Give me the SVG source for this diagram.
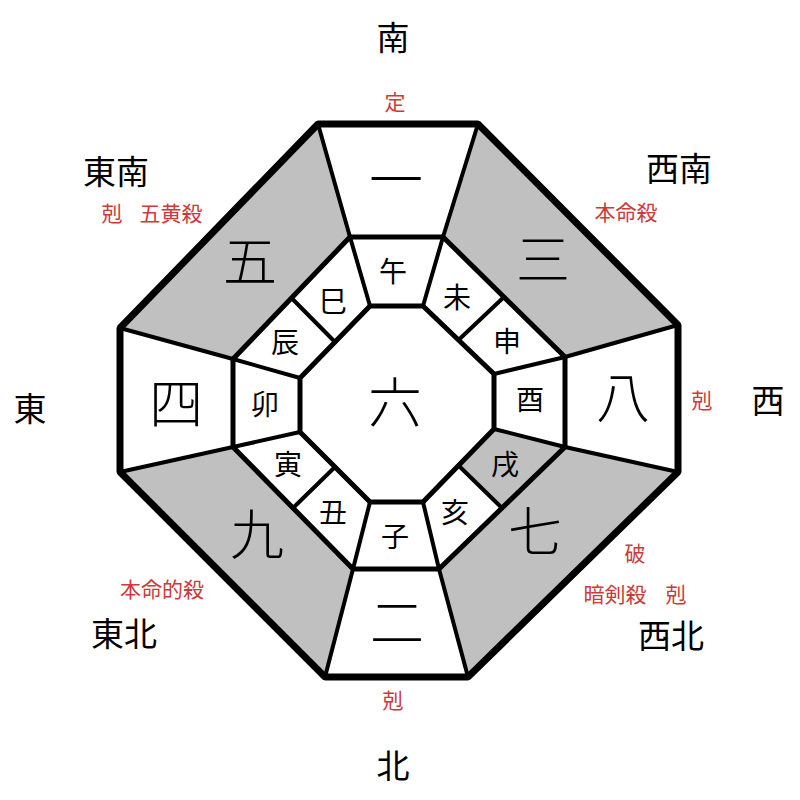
<svg xmlns="http://www.w3.org/2000/svg" width="800" height="800" viewBox="0 0 800 800">
<style>
.w{fill:#ffffff}
.g{fill:#c0c0c0}
.ln{stroke:#000;fill:none;stroke-linecap:round}
.t{font-family:"Noto Sans CJK JP","Noto Sans CJK SC",sans-serif;text-anchor:middle;fill:#000}
.big{font-size:54px;font-weight:300}
.zod{font-size:28px}
.dir{font-size:33px}
.red{font-size:21px;fill:#cc3a3a}
</style>
<rect width="800" height="800" fill="#fff"/>
<g id="cells">
<g id="c1"><polygon class="w" points="318,124 478,124 443,237 350,237"/><text class="t big" x="396" y="200">一</text></g>
<g id="c3"><polygon class="g" points="478,124 678,325 565,357 443,237"/><text class="t big" x="543" y="280">三</text></g>
<g id="c8"><polygon class="w" points="678,325 678,472 565,447 565,357"/><text class="t big" x="623" y="418">八</text></g>
<g id="c7"><polygon class="g" points="678,472 468,677 439,569 565,447"/><text class="t big" x="535" y="552">七</text></g>
<g id="c2"><polygon class="w" points="468,677 325,677 353,569 439,569"/><text class="t big" x="397" y="643">二</text></g>
<g id="c9"><polygon class="g" points="325,677 120,472 233,447 353,569"/><text class="t big" x="257" y="555">九</text></g>
<g id="c4"><polygon class="w" points="120,472 120,328 233,359 233,447"/><text class="t big" x="176" y="424">四</text></g>
<g id="c5"><polygon class="g" points="120,328 318,124 350,237 233,359"/><text class="t big" x="250" y="282">五</text></g>
<g id="c6"><polygon class="w" points="370,306 423,306 494,374 494,429 423,502 370,502 300,432 300,378"/><text class="t big" x="395" y="423">六</text></g>
</g>
<g id="zodiac">
<g id="z-uma"><polygon class="w" points="350,237 443,237 423,306 370,306"/><text class="t zod" x="393" y="282">午</text></g>
<g id="z-hitsuji"><polygon class="w" points="443,237 504,297 458.5,340 423,306"/><text class="t zod" x="457" y="308">未</text></g>
<g id="z-saru"><polygon class="w" points="504,297 565,357 494,374 458.5,340"/><text class="t zod" x="507" y="352">申</text></g>
<g id="z-tori"><polygon class="w" points="565,357 565,447 494,429 494,374"/><text class="t zod" x="530" y="410">酉</text></g>
<g id="z-inu"><polygon class="g" points="565,447 502,508 458.5,465.5 494,429"/><text class="t zod" x="505" y="475">戌</text></g>
<g id="z-i"><polygon class="w" points="502,508 439,569 423,502 458.5,465.5"/><text class="t zod" x="455" y="523">亥</text></g>
<g id="z-ne"><polygon class="w" points="439,569 353,569 370,502 423,502"/><text class="t zod" x="395" y="547">子</text></g>
<g id="z-ushi"><polygon class="w" points="353,569 293,508 335,467 370,502"/><text class="t zod" x="333" y="523">丑</text></g>
<g id="z-tora"><polygon class="w" points="293,508 233,447 300,432 335,467"/><text class="t zod" x="288" y="475">寅</text></g>
<g id="z-u"><polygon class="w" points="233,447 233,359 300,378 300,432"/><text class="t zod" x="265" y="415">卯</text></g>
<g id="z-tatsu"><polygon class="w" points="233,359 291.5,298 335,342 300,378"/><text class="t zod" x="285" y="353">辰</text></g>
<g id="z-mi"><polygon class="w" points="291.5,298 350,237 370,306 335,342"/><text class="t zod" x="333" y="312">巳</text></g>
</g>
<g id="connectors">
<g class="ln" stroke-width="4">
<line x1="318" y1="124" x2="350" y2="237"/>
<line x1="478" y1="124" x2="443" y2="237"/>
<line x1="678" y1="325" x2="565" y2="357"/>
<line x1="678" y1="472" x2="565" y2="447"/>
<line x1="468" y1="677" x2="439" y2="569"/>
<line x1="325" y1="677" x2="353" y2="569"/>
<line x1="120" y1="472" x2="233" y2="447"/>
<line x1="120" y1="328" x2="233" y2="359"/>
<line x1="350" y1="237" x2="370" y2="306"/>
<line x1="443" y1="237" x2="423" y2="306"/>
<line x1="504" y1="297" x2="458.5" y2="340"/>
<line x1="565" y1="357" x2="494" y2="374"/>
<line x1="565" y1="447" x2="494" y2="429"/>
<line x1="502" y1="508" x2="458.5" y2="465.5"/>
<line x1="439" y1="569" x2="423" y2="502"/>
<line x1="353" y1="569" x2="370" y2="502"/>
<line x1="293" y1="508" x2="335" y2="467"/>
<line x1="233" y1="447" x2="300" y2="432"/>
<line x1="233" y1="359" x2="300" y2="378"/>
<line x1="291.5" y1="298" x2="335" y2="342"/>
</g>
<polygon class="ln" stroke-width="5" stroke-linejoin="round" points="350,237 443,237 565,357 565,447 439,569 353,569 233,447 233,359"/>
<polygon class="ln" stroke-width="5" stroke-linejoin="round" points="370,306 423,306 494,374 494,429 423,502 370,502 300,432 300,378"/>
<polygon class="ln" stroke-width="7" stroke-linejoin="bevel" points="318,124 478,124 678,325 678,472 468,677 325,677 120,472 120,328"/>
</g>
<g id="labels">
<text class="t dir" x="393" y="50">南</text>
<text class="t dir" x="393" y="778">北</text>
<text class="t dir" x="30" y="421">東</text>
<text class="t dir" x="768" y="413">西</text>
<text class="t dir" x="116" y="184">東南</text>
<text class="t dir" x="679" y="181">西南</text>
<text class="t dir" x="124" y="646">東北</text>
<text class="t dir" x="671" y="648">西北</text>
<text class="t red" x="395" y="110">定</text>
<text class="t red" x="393" y="708">剋</text>
<text class="t red" x="702" y="408">剋</text>
<text class="t red" x="112" y="221">剋</text>
<text class="t red" x="171" y="221">五黄殺</text>
<text class="t red" x="626" y="220">本命殺</text>
<text class="t red" x="162" y="597">本命的殺</text>
<text class="t red" x="635" y="561">破</text>
<text class="t red" x="615" y="602">暗剣殺</text>
<text class="t red" x="676" y="602">剋</text>
</g>
</svg>
